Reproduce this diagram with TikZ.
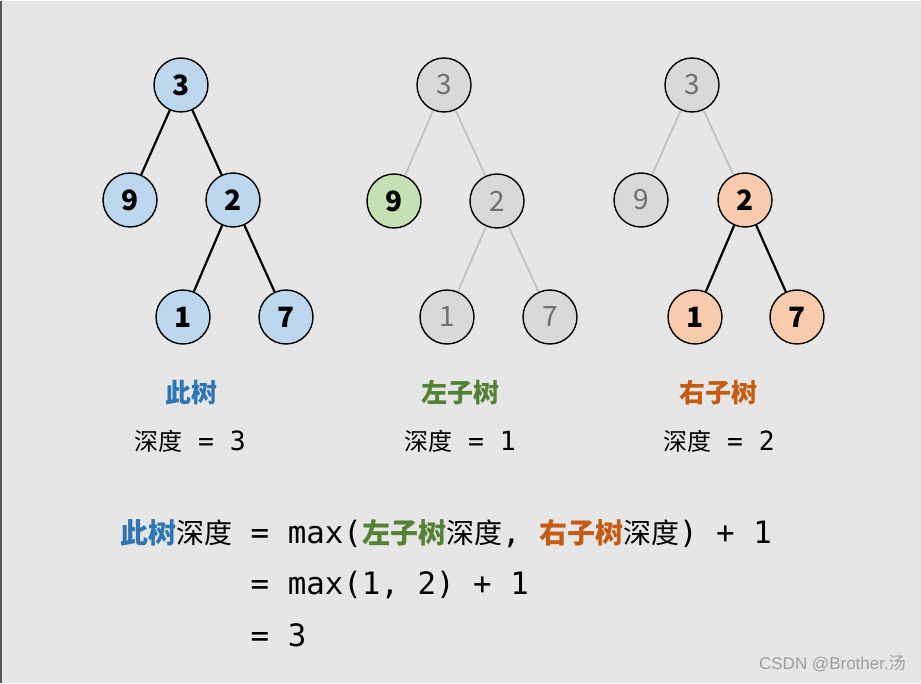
\documentclass[tikz,border=0pt]{standalone}
\usepackage{fontspec}
\usepackage{tikz}
\setmainfont{Noto Sans CJK SC}
\setmonofont{DejaVu Sans Mono}[Scale=1.1]
\newfontfamily\wmfont{Liberation Sans}
\newfontfamily\wmcjk{Noto Sans CJK SC}
\definecolor{bgcol}{HTML}{E6E6E6}
\definecolor{ndblue}{HTML}{BDD7EE}
\definecolor{ndgreen}{HTML}{C5E0B4}
\definecolor{ndorange}{HTML}{F8CBAD}
\definecolor{ndgray}{HTML}{D9D9D9}
\definecolor{txtgray}{HTML}{707070}
\definecolor{edgegray}{HTML}{C4C4C4}
\definecolor{tblue}{HTML}{2E75B6}
\definecolor{tgreen}{HTML}{548235}
\definecolor{torange}{HTML}{C55A11}

\begin{document}
\begin{tikzpicture}[x=1pt, y=-1pt,
  nd/.style={circle, draw=black, line width=1.4pt, minimum size=54pt, inner sep=0pt,
    font=\fontsize{28}{28}\selectfont\bfseries},
  bluend/.style={nd, fill=ndblue},
  greennd/.style={nd, fill=ndgreen},
  orangend/.style={nd, fill=ndorange},
  graynd/.style={nd, fill=ndgray, text=txtgray, font=\fontsize{28}{28}\selectfont},
  edge/.style={line width=2.2pt, draw=black},
  faint/.style={line width=2pt, draw=edgegray},
  title/.style={font=\fontsize{26}{26}\selectfont\bfseries, inner sep=0pt},
  depth/.style={font=\fontsize{24}{24}\selectfont, inner sep=0pt},
  eq/.style={anchor=base west, font=\fontsize{28}{28}\selectfont, inner sep=0pt}]
% --- sfondo ---
\fill[bgcol] (0,0) rectangle (921,682);
\draw[line width=2pt, black!65] (1,0) -- (1,682);

% --- albero 1: intero albero ---
\node[bluend] (a3) at (181,84) {3};
\node[bluend] (a9) at (130,199) {9};
\node[bluend] (a2) at (233,199) {2};
\node[bluend] (a1) at (183,316) {1};
\node[bluend] (a7) at (286,316) {7};
\draw[edge] (a3) -- (a9);
\draw[edge] (a3) -- (a2);
\draw[edge] (a2) -- (a1);
\draw[edge] (a2) -- (a7);

% --- albero 2: sottoalbero sinistro ---
\node[graynd] (b3) at (444,84) {3};
\node[greennd] (b9) at (394,200) {9};
\node[graynd] (b2) at (497,200) {2};
\node[graynd] (b1) at (447,316) {1};
\node[graynd] (b7) at (550,316) {7};
\draw[faint] (b3) -- (b9);
\draw[faint] (b3) -- (b2);
\draw[faint] (b2) -- (b1);
\draw[faint] (b2) -- (b7);

% --- albero 3: sottoalbero destro ---
\node[graynd] (c3) at (692,84) {3};
\node[graynd] (c9) at (641,199) {9};
\node[orangend] (c2) at (745,199) {2};
\node[orangend] (c1) at (695,316) {1};
\node[orangend] (c7) at (797,316) {7};
\draw[faint] (c3) -- (c9);
\draw[faint] (c3) -- (c2);
\draw[edge] (c2) -- (c1);
\draw[edge] (c2) -- (c7);

% --- etichette ---
\node[title, text=tblue] (ta) at (191,392) {此树};
\node[title, text=tgreen] (tb) at (460,392) {左子树};
\node[title, text=torange] (tc) at (718,392) {右子树};
\node[depth] (da) at (190,440) {深度\texttt{ = 3}};
\node[depth] (db) at (460,440) {深度\texttt{ = 1}};
\node[depth] (dc) at (719,440) {深度\texttt{ = 2}};

% --- formula ---
\node[eq] (eqa) at (120,542) {{\color{tblue}\bfseries 此树}深度\texttt{ = max(}{\color{tgreen}\bfseries 左子树}深度\texttt{, }{\color{torange}\bfseries 右子树}深度\texttt{) + 1}};
\node[eq] (eqb) at (120,593) {\phantom{此树深度}\texttt{ = max(1, 2) + 1}};
\node[eq] (eqc) at (120,645) {\phantom{此树深度}\texttt{ = 3}};

% --- watermark ---
\node[anchor=east, inner sep=0pt, text=black!38, font=\wmfont\fontsize{17}{17}\selectfont] (wm) at (906,663) {CSDN @Brother.{\wmcjk 汤}};
\end{tikzpicture}
\end{document}
